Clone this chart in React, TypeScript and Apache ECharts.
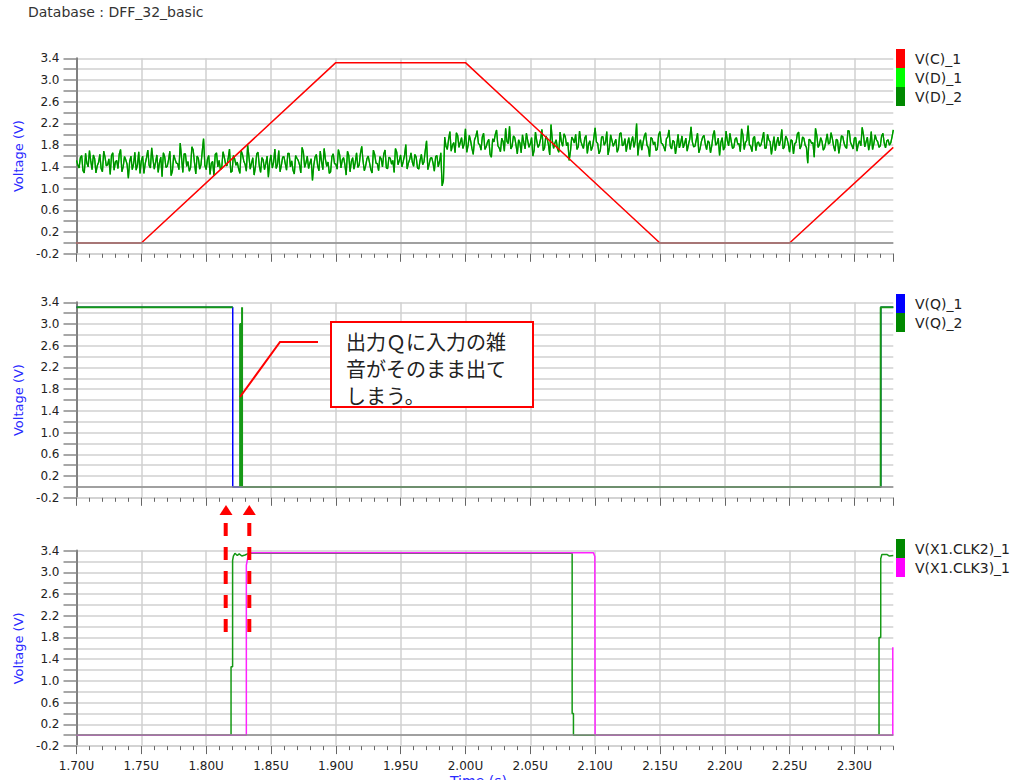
import React, { useEffect, useRef } from "react";
import * as echarts from "echarts";

// ---------- texts ----------
const TITLE = "Database : DFF_32_basic";
const Y_NAME = "Voltage (V)";
const X_NAME = "Time (s)";
const NOTE = "出力Ｑに入力の雑\n音がそのまま出て\nしまう。";

// ---------- axes ----------
const X_MIN = 1.7;
const X_MAX = 2.33;
const X_MAJOR = 0.05;
const X_MINOR = 0.01;
const Y_MIN = -0.2;
const Y_MAX = 3.4;
const Y_STEP = 0.2;
const Y_LABELS = ["-0.2", "0.2", "0.6", "1.0", "1.4", "1.8", "2.2", "2.6", "3.0", "3.4"];

// ---------- legends ----------
const LEGEND_TOP = ["V(C)_1", "V(D)_1", "V(D)_2"];
const LEGEND_MID = ["V(Q)_1", "V(Q)_2"];
const LEGEND_BOT = ["V(X1.CLK2)_1", "V(X1.CLK3)_1"];

// ---------- data: V(D) noisy input ----------
// even samples every 0.002 µs from 1.700 (low level) and 1.984 (high level),
// odd samples in between (+0.001 µs)
const LOW_T0 = 1.7;
const HIGH_T0 = 1.984;
const STEP = 0.002;
const HALF = 0.001;
const noiseLow = [
  1.52, 1.38, 1.61, 1.29, 1.47, 1.70, 1.35, 1.55, 1.42, 1.63,
  1.31, 1.58, 1.44, 1.26, 1.66, 1.49, 1.37, 1.72, 1.40, 1.53,
  1.19, 1.60, 1.45, 1.34, 1.68, 1.51, 1.28, 1.57, 1.43, 1.75,
  1.36, 1.62, 1.48, 1.22, 1.59, 1.41, 1.69, 1.33, 1.54, 1.46,
  1.84, 1.30, 1.64, 1.50, 1.39, 1.71, 1.27, 1.56, 1.44, 1.92,
  1.35, 1.61, 1.47, 1.24, 1.66, 1.52, 1.38, 1.58, 1.42, 1.73,
  1.32, 1.55, 1.49, 1.28, 1.63, 1.45, 1.80, 1.36, 1.57, 1.40,
  1.67, 1.30, 1.53, 1.46, 1.21, 1.62, 1.48, 1.37, 1.70, 1.43,
  1.59, 1.34, 1.65, 1.51, 1.27, 1.56, 1.44, 1.76, 1.39, 1.60,
  1.47, 1.15, 1.58, 1.42, 1.69, 1.35, 1.54, 1.49, 1.31, 1.64,
  1.45, 1.72, 1.38, 1.57, 1.25, 1.61, 1.50, 1.36, 1.66, 1.43,
  1.78, 1.33, 1.55, 1.48, 1.29, 1.63, 1.46, 1.59, 1.40, 1.71,
  1.37, 1.56, 1.52, 1.74, 1.44, 1.62, 1.50, 1.81, 1.47, 1.66,
  1.41, 1.58, 1.36, 1.63, 1.49, 1.88, 1.45, 1.57, 1.32, 1.61,
  1.50, 1.05,
];
const noiseLowMid = [
  1.44, 1.57, 1.33, 1.65, 1.40, 1.51, 1.62, 1.29, 1.48, 1.37,
  1.69, 1.42, 1.55, 1.61, 1.34, 1.52, 1.64, 1.31, 1.59, 1.45,
  1.50, 1.35, 1.67, 1.43, 1.28, 1.60, 1.46, 1.71, 1.38, 1.54,
  1.49, 1.30, 1.58, 1.66, 1.39, 1.53, 1.24, 1.62, 1.47, 1.35,
  1.57, 1.64, 1.41, 1.32, 1.77, 1.48, 1.60, 1.36, 1.69, 1.43,
  1.54, 1.26, 1.50, 1.63, 1.40, 1.35, 1.68, 1.45, 1.56, 1.30,
  1.61, 1.43, 1.37, 1.70, 1.51, 1.32, 1.59, 1.47, 1.25, 1.64,
  1.42, 1.57, 1.35, 1.60, 1.49, 1.38, 1.73, 1.44, 1.31, 1.58,
  1.46, 1.65, 1.40, 1.34, 1.61, 1.52, 1.29, 1.67, 1.48, 1.37,
  1.55, 1.43, 1.63, 1.33, 1.50, 1.74, 1.41, 1.28, 1.59, 1.46,
  1.36, 1.62, 1.53, 1.44, 1.69, 1.31, 1.57, 1.48, 1.39, 1.65,
  1.51, 1.42, 1.60, 1.35, 1.71, 1.47, 1.33, 1.55, 1.64, 1.38,
  1.58, 1.45, 1.30, 1.67, 1.52, 1.40, 1.61, 1.36, 1.54, 1.49,
  1.63, 1.38, 1.52, 1.44, 1.70, 1.35, 1.56, 1.47, 1.59, 1.40,
  1.66, 1.15,
];
const noiseHigh = [
  1.95, 1.72, 2.05, 1.80, 1.66, 1.98, 1.85, 1.74, 2.10, 1.79,
  1.88, 1.63, 1.96, 1.83, 1.71, 2.02, 1.77, 1.91, 1.58, 1.86,
  2.08, 1.75, 1.93, 1.69, 1.87, 2.15, 1.78, 1.94, 1.64, 1.84,
  1.99, 1.73, 1.89, 1.82, 1.60, 2.04, 1.76, 1.92, 1.70, 1.97,
  1.81, 2.18, 1.74, 1.90, 1.67, 1.86, 2.01, 1.79, 1.52, 1.95,
  1.84, 1.72, 2.06, 1.80, 1.93, 1.65, 1.88, 1.77, 2.12, 1.83,
  1.70, 1.96, 1.85, 1.62, 1.99, 1.78, 1.91, 1.74, 2.03, 1.81,
  1.68, 1.94, 1.87, 1.76, 2.20, 1.83, 1.71, 1.97, 1.80, 1.59,
  1.92, 1.86, 1.73, 2.05, 1.82, 1.69, 1.95, 1.78, 1.89, 1.64,
  2.00, 1.84, 1.75, 1.93, 1.81, 2.14, 1.77, 1.90, 1.66, 1.87,
  1.98, 1.72, 1.85, 1.79, 2.07, 1.83, 1.61, 1.94, 1.76, 1.88,
  2.02, 1.74, 1.91, 1.82, 1.68, 1.99, 1.85, 2.16, 1.78, 1.93,
  1.70, 1.86, 1.81, 2.04, 1.75, 1.90, 1.63, 1.96, 1.84, 1.79,
  2.09, 1.77, 1.92, 1.67, 1.88, 1.83, 2.01, 1.73, 1.95, 1.80,
  1.47, 1.89, 1.85, 2.11, 1.76, 1.94, 1.71, 1.87, 1.82, 2.03,
  1.78, 1.91, 1.65, 1.97, 1.84, 1.74, 2.06, 1.80, 1.93, 1.69,
  1.88, 2.13, 1.77, 1.95, 1.83, 1.72, 1.99, 1.86, 1.79, 2.02,
  1.75, 1.90, 1.84, 2.08,
];
const noiseHighMid = [
  1.78, 1.91, 1.69, 1.85, 2.03, 1.76, 1.94, 1.82, 1.67, 1.98,
  1.74, 1.90, 2.07, 1.81, 1.95, 1.72, 1.86, 1.63, 1.92, 2.00,
  1.79, 1.68, 1.87, 2.11, 1.83, 1.73, 1.97, 1.80, 1.90, 1.66,
  1.85, 2.02, 1.76, 1.94, 1.71, 1.88, 1.81, 2.09, 1.75, 1.92,
  1.62, 1.89, 1.84, 1.73, 2.04, 1.78, 1.96, 1.85, 1.69, 1.91,
  2.00, 1.77, 1.87, 1.74, 1.98, 1.82, 1.70, 1.93, 1.86, 1.64,
  1.95, 1.80, 2.05, 1.75, 1.89, 1.84, 1.67, 2.01, 1.79, 1.92,
  1.83, 1.72, 1.96, 1.88, 1.61, 1.90, 1.85, 2.03, 1.76, 1.94,
  1.81, 1.70, 1.99, 1.84, 1.77, 1.92, 2.08, 1.73, 1.86, 1.80,
  1.75, 1.97, 1.83, 1.69, 1.91, 1.86, 1.78, 2.02, 1.74, 1.95,
  1.82, 1.88, 1.66, 1.99, 1.80, 1.93, 1.85, 1.71, 2.06, 1.79,
  1.87, 1.76, 1.94, 1.83, 2.10, 1.72, 1.89, 1.81, 1.68, 1.96,
  1.84, 1.78, 1.92, 1.74, 2.00, 1.86, 1.80, 1.70, 1.95, 1.88,
  1.73, 1.97, 1.82, 1.90, 1.64, 1.85, 2.04, 1.79, 1.93, 1.76,
  1.91, 1.83, 1.58, 1.98, 1.81, 1.87, 1.75, 2.01, 1.84, 1.92,
  1.69, 1.89, 1.80, 1.96, 1.77, 2.07, 1.85, 1.73, 1.94, 1.82,
  1.79, 1.99, 1.86, 1.71, 2.05, 1.83, 1.90, 1.76, 1.97, 1.84,
  1.88, 1.80, 1.95,
];

// ---------- data: clock ramp V(C)_1 [time µs, volts] ----------
const vC1 = [
  [1.7, 0], [1.75, 0], [1.9, 3.32], [2.0, 3.32], [2.15, 0], [2.25, 0], [2.33, 1.76],
];

// ---------- data: outputs ----------
const vQ1 = [
  [1.7, 3.31], [1.8205, 3.31], [1.8205, 0], [2.3203, 0], [2.3203, 3.31], [2.33, 3.31],
];
const vQ2 = [
  [1.7, 3.31], [1.8205, 3.31], [1.823, "-"],
  [1.8262, 0], [1.8262, 3.0], [1.8277, 3.0], [1.8277, 3.31], [1.8277, 0],
  [2.3203, 0], [2.3203, 3.31], [2.33, 3.31],
];

// ---------- data: internal clocks ----------
const clk2 = [
  [1.7, 0], [1.8192, 0], [1.8192, 1.26], [1.8204, 1.26], [1.8204, 3.22], [1.821, 3.3],
  [1.8222, 3.35], [1.824, 3.31], [1.8255, 3.34], [1.8275, 3.3], [1.83, 3.32], [1.8328, 3.35],
  [2.0823, 3.35], [2.0823, 0.4], [2.0833, 0.4], [2.0833, 0],
  [2.319, 0], [2.319, 1.8], [2.3203, 1.8], [2.3203, 3.25], [2.3212, 3.33], [2.325, 3.33],
  [2.327, 3.3], [2.33, 3.31],
];
const clk3 = [
  [1.7, 0], [1.831, 0], [1.831, 3.13], [1.8328, 3.36], [2.0987, 3.36], [2.0998, 3.29],
  [2.1, 3.29], [2.1, 0], [2.3296, 0], [2.3296, 1.62],
];

// ---------- layout ----------
const GRID_LEFT = 76.5;
const GRID_RIGHT = 127.7;
const GRID_TOPS = [58.3, 302.3, 550.6];
const GRID_H = 195.5;
const LEGEND_TOPS = [49, 294, 539];

const FONT = "DejaVu Sans";
const GRID_GREY = "#d0d0d0";
const TICK_GREY = "#666666";
const AXIS_BLUE = "#2a2aff";

function buildNoise() {
  const pts: [number, number][] = [];
  noiseLow.forEach((v, i) => pts.push([LOW_T0 + i * STEP, v]));
  noiseLowMid.forEach((v, i) => pts.push([LOW_T0 + HALF + i * STEP, v]));
  noiseHigh.forEach((v, i) => pts.push([HIGH_T0 + i * STEP, v]));
  noiseHighMid.forEach((v, i) => pts.push([HIGH_T0 + HALF + i * STEP, v]));
  pts.sort((a, b) => a[0] - b[0]);
  return pts.map(([t, v]) => [+t.toFixed(4), v]);
}

function buildOption() {
  const noise = buildNoise();

  const grid = GRID_TOPS.map((top) => ({
    left: GRID_LEFT,
    right: GRID_RIGHT,
    top,
    height: GRID_H,
    containLabel: false,
  }));

  const xAxis: any[] = [];
  GRID_TOPS.forEach((_, i) => {
    xAxis.push({
      type: "value",
      gridIndex: i,
      position: "bottom",
      min: X_MIN,
      max: X_MAX,
      interval: X_MAJOR,
      axisLine: { show: true, onZero: false, lineStyle: { color: GRID_GREY, width: 1.5 } },
      axisTick: { show: true, length: 8, lineStyle: { color: TICK_GREY, width: 1 } },
      axisLabel: {
        show: i === 2,
        showMaxLabel: false,
        margin: 14,
        color: "#222",
        fontSize: 12,
        fontFamily: FONT,
        formatter: (v: number) => v.toFixed(2) + "U",
      },
      splitLine: { show: true, showMaxLine: false, lineStyle: { color: GRID_GREY, width: 1.5 } },
    });
    xAxis.push({
      type: "value",
      gridIndex: i,
      position: "bottom",
      offset: 0,
      min: X_MIN,
      max: X_MAX,
      interval: X_MINOR,
      axisLine: { show: false, onZero: false },
      axisTick: { show: true, length: 4, lineStyle: { color: TICK_GREY, width: 1 } },
      axisLabel: { show: false },
      splitLine: { show: false },
    });
  });

  const yAxis = GRID_TOPS.map((_, i) => ({
    type: "value",
    gridIndex: i,
    min: Y_MIN,
    max: Y_MAX,
    interval: Y_STEP,
    name: Y_NAME,
    nameLocation: "middle",
    nameGap: 52,
    nameRotate: 90,
    nameTextStyle: { color: AXIS_BLUE, fontSize: 13, fontFamily: FONT },
    axisLine: { show: true, onZero: false, lineStyle: { color: "#808080", width: 2 } },
    axisTick: { show: true, length: 13, lineStyle: { color: "#8a8a8a", width: 1.5 } },
    axisLabel: {
      margin: 17,
      color: "#222",
      fontSize: 12,
      fontFamily: FONT,
      formatter: (v: number) => {
        const s = v.toFixed(1);
        return Y_LABELS.includes(s) ? s : "";
      },
    },
    splitLine: { show: true, lineStyle: { color: GRID_GREY, width: 1.5 } },
  }));

  const zeroLine = {
    silent: true,
    symbol: ["none", "none"],
    label: { show: false },
    lineStyle: { color: "#8c8c8c", width: 1.5, type: "solid" },
    data: [{ yAxis: 0 }],
  };

  const line = (
    name: string,
    data: any[],
    color: string,
    width: number,
    panel: number,
    withZero = false
  ) => ({
    type: "line",
    name,
    data,
    xAxisIndex: panel * 2,
    yAxisIndex: panel,
    showSymbol: false,
    symbol: "none",
    smooth: false,
    connectNulls: false,
    color,
    lineStyle: { color, width },
    itemStyle: { color },
    silent: true,
    markLine: withZero ? zeroLine : undefined,
  });

  const series = [
    line("V(D)_1", noise, "#00ff00", 1.3, 0, true),
    line("V(D)_2", noise, "#008a00", 1.3, 0),
    line("V(C)_1", vC1, "#ff0000", 1.5, 0),
    line("V(Q)_1", vQ1, "#0000ff", 1.5, 1, true),
    line("V(Q)_2", vQ2, "#159915", 2, 1),
    line("V(X1.CLK2)_1", clk2, "#159915", 1.5, 2, true),
    line("V(X1.CLK3)_1", clk3, "#ff22ff", 1.5, 2),
  ];

  const swatch: Record<string, string> = {
    "V(C)_1": "#ff0000",
    "V(D)_1": "#00ff00",
    "V(D)_2": "#008800",
    "V(Q)_1": "#0000ff",
    "V(Q)_2": "#008800",
    "V(X1.CLK2)_1": "#008800",
    "V(X1.CLK3)_1": "#ff00ff",
  };

  const legend = [LEGEND_TOP, LEGEND_MID, LEGEND_BOT].map((names, i) => ({
    orient: "vertical",
    left: 896,
    top: LEGEND_TOPS[i],
    padding: 0,
    itemWidth: 9,
    itemHeight: 19,
    itemGap: 0,
    icon: "rect",
    selectedMode: false,
    textStyle: { color: "#222", fontSize: 14, fontFamily: FONT, padding: [0, 0, 0, 5] },
    data: names.map((n) => ({ name: n, itemStyle: { color: swatch[n], borderWidth: 0 } })),
  }));

  const red = "#ff0000";
  const graphic = [
    {
      type: "text",
      x: 28,
      y: 12,
      z: 100,
      style: { text: TITLE, fill: "#333", fontSize: 14, fontFamily: FONT, verticalAlign: "middle" },
    },
    {
      type: "text",
      x: 450,
      y: 774,
      z: 100,
      style: { text: X_NAME, fill: AXIS_BLUE, fontSize: 14, fontFamily: FONT, verticalAlign: "top" },
    },
    {
      type: "polyline",
      z: 100,
      shape: { points: [[240, 397], [280, 342], [318, 342]] },
      style: { stroke: red, lineWidth: 2, fill: null },
    },
    {
      type: "rect",
      z: 100,
      shape: { x: 331, y: 322, width: 202, height: 85 },
      style: { fill: "#ffffff", stroke: red, lineWidth: 2 },
    },
    {
      type: "text",
      x: 346,
      y: 328,
      z: 101,
      style: {
        text: NOTE,
        fill: "#222",
        fontSize: 20,
        lineHeight: 27,
        fontFamily: "Noto Sans CJK JP",
        verticalAlign: "top",
      },
    },
    {
      type: "polygon",
      z: 100,
      shape: { points: [[226, 505], [219.5, 515], [232.5, 515]] },
      style: { fill: red },
    },
    {
      type: "polygon",
      z: 100,
      shape: { points: [[249.3, 505], [242.8, 515], [255.8, 515]] },
      style: { fill: red },
    },
    {
      type: "line",
      z: 100,
      shape: { x1: 225.7, y1: 523, x2: 225.7, y2: 632 },
      style: { stroke: red, lineWidth: 4, lineDash: [13, 11] },
    },
    {
      type: "line",
      z: 100,
      shape: { x1: 249.3, y1: 523, x2: 249.3, y2: 632 },
      style: { stroke: red, lineWidth: 4, lineDash: [13, 11] },
    },
  ];

  return {
    animation: false,
    backgroundColor: "#ffffff",
    textStyle: { fontFamily: FONT },
    grid,
    xAxis,
    yAxis,
    legend,
    series,
    graphic,
  };
}

export default function App() {
  const ref = useRef<HTMLDivElement>(null);
  useEffect(() => {
    document.body.style.margin = "0";
    document.body.style.overflow = "hidden";
    const chart = echarts.init(ref.current!, null, { renderer: "svg" });
    chart.setOption(buildOption() as any);
    return () => chart.dispose();
  }, []);
  return <div ref={ref} style={{ width: 1021, height: 780 }} />;
}
